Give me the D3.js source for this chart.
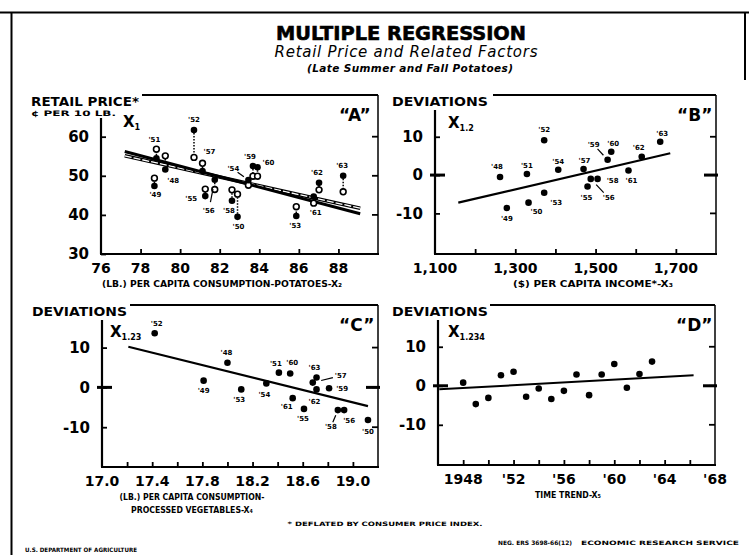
<!DOCTYPE html>
<html>
<head>
<meta charset="utf-8">
<script src="https://cdn.jsdelivr.net/npm/d3@7/dist/d3.min.js"></script>
<style>
  body { margin: 0; background: #fff; }
  svg { display: block; font-family: "DejaVu Sans", sans-serif; }
</style>
</head>
<body>
<svg id="chart" width="749" height="555"></svg>
<script>
// ---- data ----
const years = [1948, 1949, 1950, 1951, 1952, 1953, 1954, 1955, 1956, 1957, 1958, 1959, 1960, 1961, 1962, 1963];
const yearLabels = ["'48", "'49", "'50", "'51", "'52", "'53", "'54", "'55", "'56", "'57", "'58", "'59", "'60", "'61", "'62", "'63"];

// "A": retail price vs potato consumption
const potatoUse = [79.25, 78.7, 82.9, 78.8, 80.7, 85.87, 83.45, 81.27, 81.75, 81.13, 82.62, 83.68, 83.91, 86.75, 87.02, 88.24];
const priceActual = [51.6, 47.4, 39.5, 54.5, 61.7, 39.7, 48.9, 44.8, 49.0, 51.2, 43.6, 52.5, 52.2, 44.7, 48.2, 50.0];
const priceEstimated = [55.1, 49.4, 45.3, 56.8, 54.7, 42.1, 47.6, 46.6, 46.5, 53.2, 46.4, 49.9, 49.9, 43.0, 46.4, 45.9];
const lineA = [[77.2, 56.2], [89.1, 40.3]];
const lineA2 = [[77.2, 55.1], [89.1, 41.7]];

// "B": deviations vs per capita income
const income = [1262, 1279, 1333, 1329, 1372, 1372, 1407, 1480, 1488, 1470, 1505, 1530, 1539, 1582, 1615, 1661];
const devB = [-0.5, -8.6, -7.2, 0.3, 9.1, -4.6, 1.4, -3.0, -1.0, 1.6, -1.0, 4.0, 6.1, 1.2, 4.8, 8.7];
const lineB = [[1158, -7.2], [1686, 5.7]];

// "C": deviations vs processed vegetables
const vegUse = [18.0, 17.81, 19.12, 18.41, 17.42, 18.11, 18.31, 18.61, 18.93, 18.68, 18.88, 18.81, 18.5, 18.52, 18.71, 18.71];
const devC = [6.2, 1.7, -8.2, 3.7, 13.6, -0.5, 1.0, -5.4, -5.7, 1.2, -5.7, -0.2, 3.5, -2.7, -0.5, 2.5];
const lineC = [[17.21, 10.2], [19.12, -4.7]];

// "D": deviations vs time
const devD = [0.8, -4.7, -3.1, 2.7, 3.6, -2.8, -0.7, -3.4, -1.3, 2.9, -2.4, 2.9, 5.6, -0.5, 3.0, 6.2];
const lineD = [[1946.1, -0.9], [1966.3, 2.7]];

// ticks
const tickAx = [78, 80, 82, 84, 86, 88];
const labelAx = [76, 78, 80, 82, 84, 86, 88];
const tickAy = [30, 40, 50, 60];
const tickBx = [1200, 1300, 1400, 1500, 1600, 1700];
const labelBx = [1100, 1300, 1500, 1700];
const tickCx = [17.2, 17.4, 17.6, 17.8, 18.0, 18.2, 18.4, 18.6, 18.8, 19.0];
const labelCx = [17.0, 17.4, 17.8, 18.2, 18.6, 19.0];
const tickDx = [1948, 1950, 1952, 1954, 1956, 1958, 1960, 1962, 1964, 1966];
const labelDx = [1948, 1952, 1956, 1960, 1964, 1968];
const labelDxText = ["1948", "'52", "'56", "'60", "'64", "'68"];
const tickDev = [-10, 0, 10];

// label placement (px offsets from the point), layout only
const offA = {1948: [8, 11], 1949: [1, 9], 1950: [1, 10], 1951: [-2, -18], 1952: [0, -10], 1953: [-1, 10],
  1954: [-15, -11, true], 1955: [-14, 3], 1956: [-6, 31, true], 1957: [7, -19], 1958: [-3, 10], 1959: [-3, -9],
  1960: [11, -4], 1961: [2, 16], 1962: [-2, -10], 1963: [-1, -10]};
const offB = {1948: [-3, -10], 1949: [0, 11], 1950: [8, 9], 1951: [0, -8], 1952: [0, -10], 1953: [12, 10],
  1954: [0, -8], 1955: [-1, 11], 1956: [18, 19, true], 1957: [1, -8], 1958: [15, 2], 1959: [-14, -15, true],
  1960: [2, -8], 1961: [3, 11], 1962: [-3, -9], 1963: [2, -8]};
const offC = {1948: [-1, -10], 1949: [0, 10], 1950: [0, 12], 1951: [-3, -9], 1952: [2, -9], 1953: [-2, 11],
  1954: [-2, 12], 1955: [-1, 10], 1956: [5, 11], 1957: [28, -7, true], 1958: [-7, 17, true], 1959: [13, 1],
  1960: [2, -10], 1961: [-6, 9], 1962: [-2, 13], 1963: [-2, -9]};

const hyphenFormat = d => (d < 0 ? '-' + Math.abs(d) : String(d));

const svg = d3.select('#chart');
svg.append('rect').attr('width', 749).attr('height', 555).attr('fill', '#fff');

// page border
svg.append('line').attr('x1', 0).attr('x2', 749).attr('y1', 12.5).attr('y2', 12.5)
  .attr('stroke', '#000').attr('stroke-width', 2);
svg.append('line').attr('x1', 11.5).attr('x2', 11.5).attr('y1', 12).attr('y2', 555)
  .attr('stroke', '#000').attr('stroke-width', 2);
svg.append('line').attr('x1', 745).attr('x2', 745).attr('y1', 12).attr('y2', 80)
  .attr('stroke', '#000').attr('stroke-width', 2);

// titles
svg.append('text').attr('x', 401).attr('y', 40).attr('text-anchor', 'middle')
  .attr('font-size', 19).attr('font-weight', 900).attr('textLength', 250).attr('lengthAdjust', 'spacingAndGlyphs')
  .attr('stroke', '#000').attr('stroke-width', 0.6)
  .text('MULTIPLE REGRESSION');
svg.append('text').attr('x', 406).attr('y', 57).attr('text-anchor', 'middle')
  .attr('font-size', 15).attr('font-style', 'italic').attr('textLength', 263)
  .text('Retail Price and Related Factors');
svg.append('text').attr('x', 410).attr('y', 72).attr('text-anchor', 'middle')
  .attr('font-size', 10.5).attr('font-style', 'italic').attr('font-weight', 'bold').attr('textLength', 206)
  .text('(Late Summer and Fall Potatoes)');

function xLabel(x, y, parts) {
  // parts: [[text, isSub], ...]
  const t = svg.append('text').attr('x', x).attr('y', y).attr('font-weight', 'bold').attr('font-size', 15);
  parts.forEach(([s, sub]) => {
    t.append('tspan').attr('font-size', sub ? 8 : 15).attr('dy', sub ? 3 : 0).text(s);
  });
}

function panel(o) {
  const g = svg.append('g');
  const x = d3.scaleLinear().domain(o.xDomain).range([o.left, o.right]);
  const y = d3.scaleLinear().domain(o.yDomain).range([o.bottom, o.top]);

  // frame
  const seg = (x1, y1, x2, y2, w) => g.append('line').attr('x1', x1).attr('y1', y1).attr('x2', x2).attr('y2', y2)
    .attr('stroke', '#000').attr('stroke-width', w || 2);
  seg(o.left, o.axisTop, o.left, o.bottom, 2.2);
  seg(o.left - 1, o.bottom, o.right + 1, o.bottom, 2.2);
  seg(o.topStart, o.top, o.right, o.top, 1.8);
  seg(o.right, o.top, o.right, o.bottom, 1.5);

  // y axis
  const ya = g.append('g').attr('transform', `translate(${o.left},0)`)
    .call(d3.axisLeft(y).tickValues(o.yTicks).tickSize(-5).tickPadding(12).tickFormat(hyphenFormat));
  ya.select('.domain').remove();
  ya.selectAll('line').attr('stroke-width', 1.8);
  ya.selectAll('text').attr('font-size', 15).attr('font-weight', 'bold').attr('font-family', '"DejaVu Sans", sans-serif');

  // right ticks
  g.selectAll('.rt').data(o.yTicks.filter(v => v !== o.yDomain[0])).enter().append('line')
    .attr('x1', o.right - 6).attr('x2', o.right).attr('y1', d => y(d)).attr('y2', d => y(d))
    .attr('stroke', '#000').attr('stroke-width', 1.8);

  // zero marks on deviation panels
  if (o.zero) {
    seg(o.left - 5, y(0), o.left + 10, y(0), 3);
    seg(o.right - 12, y(0), o.right + 2, y(0), 3);
  }

  // x ticks and labels
  const xa = g.append('g').attr('transform', `translate(0,${o.bottom})`)
    .call(d3.axisBottom(x).tickValues(o.xTicks).tickSize(-5).tickFormat(''));
  xa.select('.domain').remove();
  xa.selectAll('line').attr('stroke-width', 1.8);
  g.selectAll('.xl').data(o.xLabels).enter().append('text')
    .attr('x', d => x(d)).attr('y', o.bottom + 19)
    .attr('text-anchor', 'middle').attr('font-size', 14).attr('font-weight', 'bold')
    .text((d, i) => o.xText ? o.xText[i] : o.xFormat(d));

  // axis title lines
  o.titleLines.forEach((s, i) => {
    g.append('text').attr('x', o.titleX).attr('y', o.bottom + 33 + i * 13).attr('text-anchor', 'middle')
      .attr('font-size', 8).attr('font-weight', 'bold').attr('textLength', o.titleLen[i]).attr('lengthAdjust', 'spacingAndGlyphs')
      .text(s);
  });

  // header
  g.append('text').attr('x', o.headX).attr('y', o.top + 11).attr('font-size', 12).attr('font-weight', 900)
    .attr('textLength', o.headLen).attr('lengthAdjust', 'spacingAndGlyphs').text(o.head);

  // letter
  g.append('text').attr('x', o.right - 39).attr('y', o.top + 26).attr('font-size', 17).attr('font-weight', 'bold')
    .text('\u201C' + o.letter + '\u201D');

  return { g, x, y };
}

function regLine(p, pts, width) {
  p.g.append('line')
    .attr('x1', p.x(pts[0][0])).attr('y1', p.y(pts[0][1]))
    .attr('x2', p.x(pts[1][0])).attr('y2', p.y(pts[1][1]))
    .attr('stroke', '#000').attr('stroke-width', width);
}

function pointLabels(p, xs, ys, offs) {
  years.forEach((yr, i) => {
    const off = offs[yr];
    const px = p.x(xs[i]), py = p.y(ys[i]);
    if (off[2]) {
      p.g.append('line')
        .attr('x1', px + off[0] * 0.3).attr('y1', py + off[1] * 0.3)
        .attr('x2', px + off[0] * 0.72).attr('y2', py + off[1] * 0.72)
        .attr('stroke', '#000').attr('stroke-width', 1.2);
    }
    p.g.append('text').attr('x', px + off[0]).attr('y', py + off[1])
      .attr('text-anchor', 'middle').attr('dominant-baseline', 'central')
      .attr('font-size', 7).attr('font-weight', 'bold').text(yearLabels[i]);
  });
}

function dots(p, xs, ys, r) {
  p.g.append('g').selectAll('circle').data(years).enter().append('circle')
    .attr('cx', (d, i) => p.x(xs[i])).attr('cy', (d, i) => p.y(ys[i])).attr('r', r).attr('fill', '#000');
}

// ---- panel A ----
const pA = panel({ left: 101, right: 378, top: 95, bottom: 254, axisTop: 118, topStart: 142,
  xDomain: [76, 90], yDomain: [30, 70.66], yTicks: tickAy, xTicks: tickAx, xLabels: labelAx, xFormat: d3.format('d'),
  titleLines: ['(LB.) PER CAPITA CONSUMPTION-POTATOES-X\u2082'], titleLen: [240], titleX: 222,
  head: 'RETAIL PRICE*', headX: 31, headLen: 108, letter: 'A' });
pA.g.append('text').attr('x', 31).attr('y', 116).attr('font-size', 7.5).attr('font-weight', 'bold')
  .attr('textLength', 85).attr('lengthAdjust', 'spacingAndGlyphs').text('\u00A2 PER 10 LB.');
xLabel(123, 127, [['X', false], ['1', true]]);

// dotted links actual -> estimated
pA.g.selectAll('.link').data(years).enter().append('line')
  .attr('x1', (d, i) => pA.x(potatoUse[i])).attr('x2', (d, i) => pA.x(potatoUse[i]))
  .attr('y1', (d, i) => pA.y(priceActual[i])).attr('y2', (d, i) => pA.y(priceEstimated[i]))
  .attr('stroke', '#000').attr('stroke-width', 1.5).attr('stroke-dasharray', '1.5,1.5');
// hollow second line
pA.g.append('line')
  .attr('x1', pA.x(lineA2[0][0])).attr('y1', pA.y(lineA2[0][1]))
  .attr('x2', pA.x(lineA2[1][0])).attr('y2', pA.y(lineA2[1][1]))
  .attr('stroke', '#000').attr('stroke-width', 3.6);
pA.g.append('line')
  .attr('x1', pA.x(lineA2[0][0])).attr('y1', pA.y(lineA2[0][1]))
  .attr('x2', pA.x(lineA2[1][0])).attr('y2', pA.y(lineA2[1][1]))
  .attr('stroke', '#fff').attr('stroke-width', 1.3).attr('stroke-dasharray', '7,2');
regLine(pA, lineA, 3);
pA.g.selectAll('.est').data(years).enter().append('circle')
  .attr('cx', (d, i) => pA.x(potatoUse[i])).attr('cy', (d, i) => pA.y(priceEstimated[i])).attr('r', 2.9)
  .attr('fill', '#fff').attr('stroke', '#000').attr('stroke-width', 1.6);
dots(pA, potatoUse, priceActual, 3.3);
pointLabels(pA, potatoUse, priceActual, offA);

// ---- panel B ----
const pB = panel({ left: 435, right: 716, top: 95, bottom: 254, axisTop: 110, topStart: 493,
  xDomain: [1100, 1800], yDomain: [-20.6, 20.9], yTicks: tickDev, zero: true, xTicks: tickBx, xLabels: labelBx,
  xFormat: d3.format(','), titleLines: ['($) PER CAPITA INCOME*-X\u2083'], titleLen: [160], titleX: 593,
  head: 'DEVIATIONS', headX: 392, headLen: 96, letter: 'B' });
xLabel(448, 128, [['X', false], ['1.2', true]]);
regLine(pB, lineB, 2.2);
dots(pB, income, devB, 3.3);
pointLabels(pB, income, devB, offB);

// ---- panel C ----
const pC = panel({ left: 102, right: 378, top: 305, bottom: 467, axisTop: 320, topStart: 130,
  xDomain: [17.0, 19.2], yDomain: [-20, 20.7], yTicks: tickDev, zero: true, xTicks: tickCx, xLabels: labelCx,
  xFormat: d3.format('.1f'), titleLines: ['(LB.) PER CAPITA CONSUMPTION-', 'PROCESSED VEGETABLES-X\u2084'],
  titleLen: [145, 122], titleX: 192, head: 'DEVIATIONS', headX: 32, headLen: 95, letter: 'C' });
xLabel(110, 337, [['X', false], ['1.23', true]]);
regLine(pC, lineC, 2.2);
dots(pC, vegUse, devC, 3.3);
pointLabels(pC, vegUse, devC, offC);

// ---- panel D ----
const pD = panel({ left: 438, right: 715, top: 305, bottom: 465, axisTop: 320, topStart: 490,
  xDomain: [1946, 1968], yDomain: [-20.3, 20.7], yTicks: tickDev, zero: true, xTicks: tickDx, xLabels: labelDx,
  xText: labelDxText, titleLines: ['TIME TREND-X\u2085'], titleLen: [66], titleX: 568,
  head: 'DEVIATIONS', headX: 392, headLen: 96, letter: 'D' });
xLabel(448, 337, [['X', false], ['1.234', true]]);
regLine(pD, lineD, 2);
dots(pD, years, devD, 3.3);

// footnotes
svg.append('text').attr('x', 385).attr('y', 526).attr('text-anchor', 'middle').attr('font-size', 6)
  .attr('font-weight', 'bold').attr('textLength', 195).attr('lengthAdjust', 'spacingAndGlyphs')
  .text('* DEFLATED BY CONSUMER PRICE INDEX.');
svg.append('text').attr('x', 25).attr('y', 552).attr('font-size', 6).attr('font-weight', 'bold')
  .attr('textLength', 112).attr('lengthAdjust', 'spacingAndGlyphs').text('U.S. DEPARTMENT OF AGRICULTURE');
svg.append('text').attr('x', 498).attr('y', 545).attr('font-size', 6).attr('font-weight', 'bold')
  .attr('textLength', 74).attr('lengthAdjust', 'spacingAndGlyphs').text('NEG. ERS 3698-66(12)');
svg.append('text').attr('x', 581).attr('y', 545).attr('font-size', 6).attr('font-weight', 'bold')
  .attr('textLength', 158).attr('lengthAdjust', 'spacingAndGlyphs').text('ECONOMIC RESEARCH SERVICE');
</script>
</body>
</html>
